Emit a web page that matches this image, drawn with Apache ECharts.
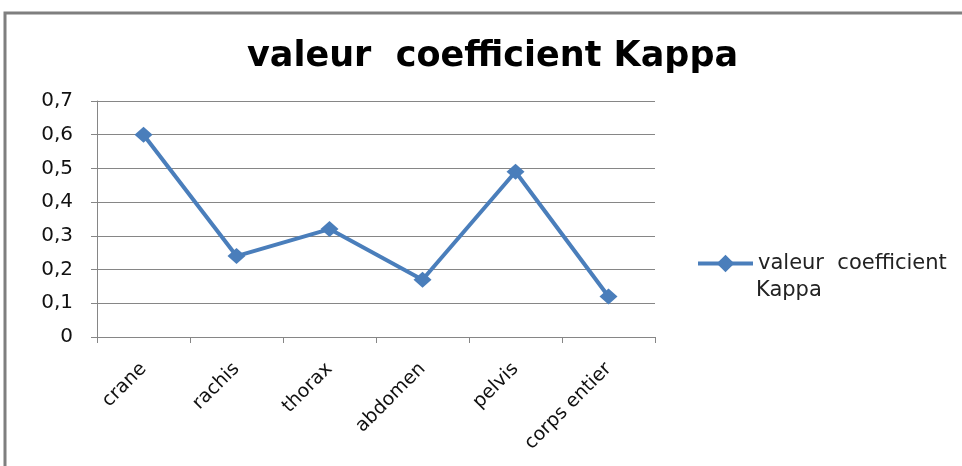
<!DOCTYPE html>
<html>
<head>
<meta charset="utf-8">
<script src="https://cdn.jsdelivr.net/npm/echarts@6/dist/echarts.min.js"></script>
<style>
  html, body { margin: 0; padding: 0; background: #fff; }
  #chart { width: 962px; height: 466px; }
</style>
</head>
<body>
<div id="chart"></div>
<script>
// data
var categories = ["crane", "rachis", "thorax", "abdomen", "pelvis", "corps entier"];
var kappaValues = [0.60, 0.24, 0.32, 0.17, 0.49, 0.12];
var seriesName = "valeur  coefficient Kappa";

var chart = echarts.init(document.getElementById("chart"));

var textFont = "'DejaVu Sans', sans-serif";
var gridColor = "#868686";
var lineColor = "#4a7ebb";

chart.setOption({
    animation: false,
    backgroundColor: "#fff",
    title: {
        text: "valeur  coefficient Kappa",
        left: 242,
        top: 34,
        textStyle: {
            fontFamily: textFont,
            fontWeight: "bold",
            fontSize: 35,
            color: "#000"
        }
    },
    legend: {
        data: [seriesName],
        left: 691,
        top: 248,
        itemWidth: 55,
        itemHeight: 22,
        itemGap: 4,
        lineStyle: { width: 4 },
        // second line of the legend label is drawn as graphic text below
        formatter: function () { return "valeur  coefficient"; },
        textStyle: {
            fontFamily: textFont,
            fontSize: 21,
            color: "#222"
        }
    },
    graphic: [
        {
            type: "polyline",
            shape: { points: [[5, 470], [5, 13], [965, 13]] },
            style: { stroke: "#7f7f7f", lineWidth: 3, fill: null }
        },
        {
            type: "text",
            left: 756,
            top: 280,
            style: {
                text: "Kappa",
                fontFamily: textFont,
                fontSize: 21,
                fill: "#222"
            }
        }
    ],
    grid: {
        left: 97,
        right: 307,
        top: 101,
        bottom: 129
    },
    xAxis: {
        type: "category",
        data: categories,
        boundaryGap: true,
        axisLine: { lineStyle: { color: gridColor, width: 1 } },
        axisTick: { show: true, length: 6, lineStyle: { color: gridColor } },
        axisLabel: {
            rotate: 45,
            margin: 29,
            fontFamily: textFont,
            fontSize: 19,
            color: "#111"
        },
        splitLine: { show: false }
    },
    yAxis: {
        type: "value",
        min: 0,
        max: 0.7,
        interval: 0.1,
        axisLine: { show: true, lineStyle: { color: gridColor, width: 1 } },
        axisTick: { show: true, length: 6, lineStyle: { color: gridColor } },
        axisLabel: {
            margin: 24,
            fontFamily: textFont,
            fontSize: 20,
            color: "#111",
            formatter: function (v) { return v === 0 ? "0" : v.toFixed(1).replace(".", ","); }
        },
        splitLine: { lineStyle: { color: gridColor, width: 1 } }
    },
    series: [
        {
            name: seriesName,
            type: "line",
            data: kappaValues,
            symbol: "diamond",
            symbolSize: [18, 16],
            itemStyle: { color: lineColor },
            lineStyle: { color: lineColor, width: 4 }
        }
    ]
});
</script>
</body>
</html>
